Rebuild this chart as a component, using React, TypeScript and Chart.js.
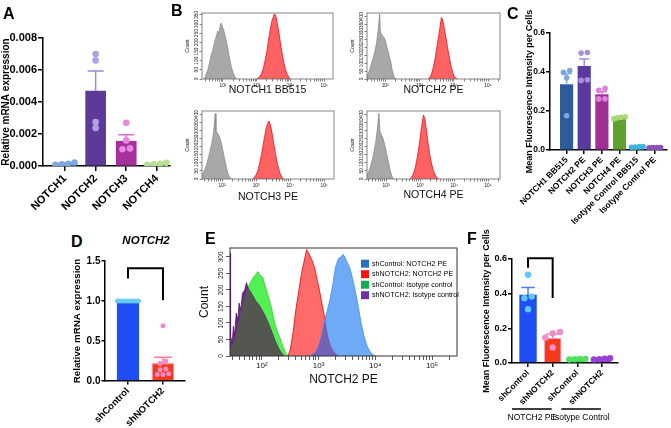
import React, { useEffect, useRef } from 'react';
import { Chart, registerables } from 'chart.js';

Chart.register(...registerables);

const FONT = "'Liberation Sans', Arial, Helvetica, sans-serif";
Chart.defaults.font.family = FONT;
Chart.defaults.color = '#000';

/* ================= DATA ================= */
// Panel A
const aCategories = ['NOTCH1', 'NOTCH2', 'NOTCH3', 'NOTCH4'];
const aMeans = [0.00012, 0.00469, 0.00155, 0.0001];
const aSems = [0.00003, 0.00125, 0.0004, 0.00002];
const aDotsNotch1 = [0.00022, 0.0001, 0.00008, 0.00013];
const aDotsNotch2 = [0.007, 0.0066, 0.00275, 0.00238];
const aDotsNotch3 = [0.0027, 0.0016, 0.00105, 0.0011];
const aDotsNotch4 = [0.0002, 0.00014, 0.00008, 0.00011];
const aYTicks = [0, 0.002, 0.004, 0.006, 0.008];

// Panel B histograms: [log10 intensity, count]
const b1Gray: number[][] = [[1.42,0],[1.47,8],[1.5,25],[1.55,48],[1.6,85],[1.65,128],[1.7,160],[1.75,198],[1.8,232],[1.85,262],[1.88,250],[1.92,292],[1.95,305],[1.98,286],[2.02,268],[2.05,246],[2.1,208],[2.15,160],[2.2,108],[2.25,66],[2.3,34],[2.35,12],[2.4,0]];
const b1Red: number[][] = [[3.0,0],[3.05,6],[3.1,16],[3.15,32],[3.2,60],[3.25,102],[3.3,150],[3.35,212],[3.4,268],[3.45,318],[3.5,342],[3.52,355],[3.56,348],[3.6,312],[3.65,262],[3.7,200],[3.75,142],[3.8,92],[3.85,55],[3.9,26],[3.95,10],[4.0,0]];
const b2Gray: number[][] = [[1.47,22],[1.5,32],[1.55,60],[1.6,98],[1.65,132],[1.7,175],[1.75,230],[1.8,318],[1.84,415],[1.86,300],[1.9,280],[1.95,268],[2.0,250],[2.05,205],[2.1,160],[2.15,124],[2.2,62],[2.25,22],[2.3,0]];
const b2Red: number[][] = [[3.25,0],[3.3,10],[3.35,30],[3.4,70],[3.45,122],[3.5,190],[3.55,262],[3.6,330],[3.64,392],[3.68,375],[3.72,330],[3.77,268],[3.82,200],[3.87,140],[3.92,84],[3.97,42],[4.02,16],[4.07,4],[4.1,0]];
const b3Gray: number[][] = [[1.41,20],[1.45,38],[1.5,62],[1.55,92],[1.6,132],[1.65,178],[1.7,222],[1.75,285],[1.8,405],[1.82,300],[1.87,282],[1.92,262],[1.97,230],[2.02,180],[2.07,128],[2.12,78],[2.17,36],[2.22,12],[2.27,0]];
const b3Red: number[][] = [[2.9,0],[2.95,10],[3.0,25],[3.05,50],[3.1,92],[3.15,142],[3.2,202],[3.25,262],[3.3,318],[3.35,348],[3.38,358],[3.42,335],[3.47,282],[3.52,218],[3.57,155],[3.62,100],[3.67,58],[3.72,26],[3.77,8],[3.8,0]];
const b4Gray: number[][] = [[1.44,22],[1.5,50],[1.55,82],[1.6,122],[1.65,172],[1.7,232],[1.75,318],[1.79,405],[1.82,292],[1.87,272],[1.92,245],[1.97,205],[2.02,155],[2.07,104],[2.12,55],[2.17,18],[2.22,0]];
const b4Red: number[][] = [[2.7,0],[2.75,10],[2.8,30],[2.85,62],[2.9,112],[2.95,175],[3.0,252],[3.05,330],[3.1,396],[3.14,372],[3.19,298],[3.24,215],[3.29,145],[3.34,92],[3.39,52],[3.44,26],[3.49,10],[3.55,0]];
const bTitles = ['NOTCH1 BB515', 'NOTCH2 PE', 'NOTCH3 PE', 'NOTCH4 PE'];
const bYTicksTop = [0, 50, 100, 150, 200, 250, 300, 350];
const bYTicks = [0, 50, 100, 150, 200, 250, 300, 350, 400];

// Panel C
const cCategories = ['NOTCH1 BB515', 'NOTCH2 PE', 'NOTCH3 PE', 'NOTCH4 PE', 'Isotype Control BB515', 'Isotype Control PE'];
const cMeans = [0.335, 0.429, 0.284, 0.164, 0.016, 0.012];
const cSems = [0.056, 0.038, 0.015, 0.008, 0.002, 0.001];
const cDotsN1 = [0.398, 0.407, 0.37, 0.176];
const cDotsN2 = [0.497, 0.5, 0.357, 0.36];
const cDotsN3 = [0.306, 0.316, 0.262, 0.262];
const cDotsN4 = [0.17, 0.168, 0.16, 0.165];
const cDotsIsoBB = [0.018, 0.015, 0.017, 0.014];
const cDotsIsoPE = [0.013, 0.012, 0.011, 0.012];
const cYTicks = [0, 0.2, 0.4, 0.6];

// Panel D
const dCategories = ['shControl', 'shNOTCH2'];
const dMeans = [1.0, 0.22];
const dSems = [0, 0.076];
const dDotsControl = [1, 1, 1, 1, 1, 1, 1, 1];
const dDotsKnockdown = [0.69, 0.25, 0.22, 0.15, 0.14, 0.09, 0.08, 0.08];
const dYTicks = [0, 0.5, 1.0, 1.5];
const dBracket = { from: 0, to: 1, top: 1.41, leftEnd: 1.28, rightEnd: 1.01 };

// Panel E histograms
const eBlue: number[][] = [[2.85,0],[2.95,12],[3.0,30],[3.05,60],[3.1,100],[3.15,135],[3.2,170],[3.25,215],[3.3,270],[3.35,295],[3.4,300],[3.43,308],[3.47,298],[3.5,285],[3.55,268],[3.6,235],[3.65,195],[3.7,150],[3.75,100],[3.8,62],[3.85,32],[3.9,15],[3.95,5],[4.0,0]];
const eRed: number[][] = [[2.46,0],[2.5,18],[2.55,70],[2.6,140],[2.65,195],[2.7,250],[2.75,290],[2.79,322],[2.83,310],[2.88,292],[2.93,268],[2.98,228],[3.02,195],[3.07,150],[3.11,115],[3.17,60],[3.22,30],[3.27,14],[3.32,5],[3.36,0]];
const eGreen: number[][] = [[1.44,20],[1.5,40],[1.55,70],[1.6,110],[1.65,150],[1.7,180],[1.75,205],[1.8,222],[1.85,238],[1.9,248],[1.93,256],[1.97,245],[2.02,236],[2.06,212],[2.1,190],[2.17,147],[2.23,98],[2.28,72],[2.32,55],[2.37,30],[2.42,10],[2.46,0]];
const ePurple: number[][] = [[1.44,310],[1.45,60],[1.48,40],[1.5,90],[1.52,60],[1.55,130],[1.58,110],[1.6,160],[1.63,140],[1.66,190],[1.7,200],[1.73,222],[1.76,205],[1.8,195],[1.85,180],[1.9,165],[1.95,155],[2.0,140],[2.05,125],[2.1,105],[2.15,85],[2.2,62],[2.25,40],[2.3,22],[2.35,8],[2.4,0]];
const eLegendLabels = ['shControl: NOTCH2 PE', 'shNOTCH2: NOTCH2 PE', 'shControl: Isotype control', 'shNOTCH2: Isotype control'];
const eYTicks = [0, 50, 100, 150, 200, 250, 300];

// Panel F
const fCategories = ['shControl', 'shNOTCH2', 'shControl', 'shNOTCH2'];
const fGroupLabels = ['NOTCH2 PE', 'Isotype Control'];
const fGroupSpans = [[0, 1], [2, 3]];
const fMeans = [0.393, 0.143, 0.02, 0.022];
const fSems = [0.042, 0.025, 0.003, 0.004];
const fDotsCtrl = [0.509, 0.383, 0.374, 0.31];
const fDotsKd = [0.179, 0.171, 0.146, 0.09];
const fDotsIsoCtrl = [0.022, 0.024, 0.02, 0.023];
const fDotsIsoKd = [0.028, 0.022, 0.025, 0.02];
const fYTicks = [0, 0.2, 0.4, 0.6];
const fBracket = { from: 0, to: 1, top: 0.605, leftEnd: 0.55, rightEnd: 0.375 };

/* ================= LAYOUT / STYLE ================= */
type Box = { cx: number; cy: number; cw: number; ch: number; L: number; T: number; R: number; B: number };
const BOX: Record<string, Box> = {
  A: { cx: 0, cy: 20, cw: 178, ch: 200, L: 43, T: 38, R: 170, B: 166 },
  B1: { cx: 180, cy: 5, cw: 160, ch: 100, L: 202, T: 13, R: 333, B: 79 },
  B2: { cx: 345, cy: 5, cw: 160, ch: 100, L: 367, T: 13, R: 500, B: 79 },
  B3: { cx: 180, cy: 103, cw: 160, ch: 105, L: 202, T: 111, R: 334, B: 179 },
  B4: { cx: 345, cy: 103, cw: 160, ch: 105, L: 367, T: 111, R: 500, B: 179 },
  C: { cx: 500, cy: 0, cw: 171, ch: 260, L: 550, T: 33, R: 670, B: 150 },
  D: { cx: 60, cy: 250, cw: 130, ch: 178, L: 105, T: 261, R: 185, B: 381 },
  E: { cx: 195, cy: 235, cw: 270, ch: 160, L: 230, T: 248, R: 457, B: 356 },
  F: { cx: 480, cy: 222, cw: 145, ch: 206, L: 512, T: 259, R: 618, B: 363 },
};

function layoutFor(b: Box) {
  return {
    padding: { left: 0, top: b.T - b.cy, right: b.cx + b.cw - b.R, bottom: 0 },
    yWidth: b.L - b.cx,
    xHeight: b.cy + b.ch - b.B,
  };
}

const SUP: Record<number, string> = { 1: '\u00b9', 2: '\u00b2', 3: '\u00b3', 4: '\u2074', 5: '\u2075' };
function decadeLabel(v: number) {
  const r = Math.round(v);
  return Math.abs(v - r) < 1e-6 ? '10' + SUP[r] : '';
}
function logTicks(min: number, max: number) {
  const t: { value: number }[] = [];
  for (let e = Math.floor(min); e <= Math.ceil(max); e++) {
    for (let k = 1; k <= 9; k++) {
      const v = e + Math.log10(k);
      if (v >= min - 1e-9 && v <= max + 1e-9) t.push({ value: v });
    }
  }
  return t;
}

// horizontal spreading of overlapping dots (scatter dot plot)
function swarmX(values: number[], center: number, pxX: number, pxY: number, diam: number, maxSpan: number) {
  const idx = values.map((_, i) => i).sort((a, b) => values[a] - values[b]);
  const xs = values.map(() => center);
  let i = 0;
  while (i < idx.length) {
    let j = i + 1;
    while (j < idx.length && (values[idx[j]] - values[idx[j - 1]]) * pxY < diam * 0.7) j++;
    const n = j - i;
    if (n > 1) {
      const step = Math.min(diam * 1.15, maxSpan / (n - 1));
      for (let k = 0; k < n; k++) xs[idx[i + k]] = center + ((k - (n - 1) / 2) * step) / pxX;
    }
    i = j;
  }
  return xs;
}

/* ================= PLUGINS ================= */
const errorBarPlugin = {
  id: 'errorBars',
  afterDatasetDraw(chart: any, args: any) {
    const ds: any = chart.data.datasets[args.index];
    if (!ds.sems) return;
    const ys = chart.scales.y;
    const ctx = chart.ctx;
    ctx.save();
    args.meta.data.forEach((bar: any, i: number) => {
      const s = ds.sems[i];
      if (!s) return;
      const m = ds.data[i].y;
      const y0 = ys.getPixelForValue(m);
      const y1 = ys.getPixelForValue(m + s);
      ctx.strokeStyle = ds.errColors[i];
      ctx.lineWidth = 1.5;
      ctx.beginPath();
      ctx.moveTo(bar.x, y0);
      ctx.lineTo(bar.x, y1);
      ctx.moveTo(bar.x - ds.capHalf, y1);
      ctx.lineTo(bar.x + ds.capHalf, y1);
      ctx.stroke();
    });
    ctx.restore();
  },
};

const bracketPlugin = {
  id: 'brackets',
  afterDatasetsDraw(chart: any, _a: any, opts: any) {
    const items = (opts && opts.items) || [];
    const ctx = chart.ctx;
    const xs = chart.scales.x, ys = chart.scales.y;
    ctx.save();
    ctx.strokeStyle = '#000';
    ctx.lineWidth = 2;
    ctx.lineJoin = 'miter';
    items.forEach((b: any) => {
      const x1 = xs.getPixelForValue(b.from), x2 = xs.getPixelForValue(b.to);
      const yt = ys.getPixelForValue(b.top);
      ctx.beginPath();
      ctx.moveTo(x1, ys.getPixelForValue(b.leftEnd));
      ctx.lineTo(x1, yt);
      ctx.lineTo(x2, yt);
      ctx.lineTo(x2, ys.getPixelForValue(b.rightEnd));
      ctx.stroke();
    });
    ctx.restore();
  },
};

const groupPlugin = {
  id: 'groups',
  afterDraw(chart: any, _a: any, opts: any) {
    if (!opts || !opts.labels) return;
    const ctx = chart.ctx;
    const xs = chart.scales.x;
    const yb = chart.chartArea.bottom;
    ctx.save();
    opts.labels.forEach((label: string, i: number) => {
      const [a, b] = opts.spans[i];
      const x1 = xs.getPixelForValue(a) - 16, x2 = xs.getPixelForValue(b) - 1;
      ctx.strokeStyle = '#000';
      ctx.lineWidth = 1.6;
      ctx.beginPath();
      ctx.moveTo(x1, yb + 46);
      ctx.lineTo(x2, yb + 46);
      ctx.stroke();
      ctx.fillStyle = '#000';
      ctx.font = `8.5px ${FONT}`;
      ctx.textAlign = 'center';
      ctx.textBaseline = 'middle';
      ctx.fillText(label, (x1 + x2) / 2, yb + 55);
    });
    ctx.restore();
  },
};

const overlapPlugin = {
  id: 'overlap',
  afterDatasetsDraw(chart: any, _a: any, opts: any) {
    const pairs = (opts && opts.pairs) || [];
    const { ctx, chartArea } = chart;
    const y0 = chart.scales.y.getPixelForValue(0);
    const path = (meta: any) => {
      const pts = meta.data;
      ctx.moveTo(pts[0].x, y0);
      pts.forEach((p: any) => ctx.lineTo(p.x, p.y));
      ctx.lineTo(pts[pts.length - 1].x, y0);
      ctx.closePath();
    };
    pairs.forEach((pr: any) => {
      ctx.save();
      ctx.beginPath();
      ctx.rect(chartArea.left, chartArea.top, chartArea.width, chartArea.height);
      ctx.clip();
      ctx.beginPath();
      path(chart.getDatasetMeta(pr.a));
      ctx.clip();
      ctx.beginPath();
      path(chart.getDatasetMeta(pr.b));
      ctx.fillStyle = pr.color;
      ctx.fill();
      ctx.restore();
    });
  },
};

const framePlugin = {
  id: 'frame',
  afterDraw(chart: any, _a: any, opts: any) {
    if (!opts || !opts.color) return;
    const { ctx, chartArea } = chart;
    ctx.save();
    ctx.strokeStyle = opts.color;
    ctx.lineWidth = opts.width;
    ctx.strokeRect(chartArea.left, chartArea.top, chartArea.width, chartArea.height);
    ctx.restore();
  },
};

const rotYPlugin = {
  id: 'rotY',
  afterDraw(chart: any, _a: any, o: any) {
    if (!o || !o.size) return;
    const ys = chart.scales.y;
    const ctx = chart.ctx;
    ctx.save();
    ctx.font = `${o.size}px ${FONT}`;
    ctx.fillStyle = '#222';
    ctx.textAlign = 'center';
    ctx.textBaseline = 'bottom';
    ys.ticks.forEach((t: any) => {
      ctx.save();
      ctx.translate(chart.chartArea.left - o.gap, ys.getPixelForValue(t.value));
      ctx.rotate(-Math.PI / 2);
      ctx.fillText(String(t.value), 0, 0);
      ctx.restore();
    });
    ctx.restore();
  },
};

const legendPlugin = {
  id: 'boxLegend',
  afterDraw(chart: any, _a: any, o: any) {
    if (!o || !o.labels) return;
    const { ctx, chartArea } = chart;
    ctx.save();
    ctx.font = `${o.size}px ${FONT}`;
    ctx.textBaseline = 'middle';
    ctx.textAlign = 'left';
    o.labels.forEach((label: string, i: number) => {
      const y = chartArea.top + o.dy0 + i * o.dy;
      const x = chartArea.left + o.dx;
      ctx.fillStyle = o.colors[i];
      ctx.fillRect(x, y - o.box / 2, o.box, o.box);
      ctx.fillStyle = '#000';
      ctx.fillText(label, x + o.box + o.gap, y);
    });
    ctx.restore();
  },
};

/* ================= CONFIG BUILDERS ================= */
function barConfig(p: any) {
  const b: Box = p.box;
  const lay = layoutFor(b);
  const pxX = (b.R - b.L) / (p.xMax - p.xMin);
  const pxY = (b.B - b.T) / p.yMax;
  const diam = p.dotR * 2;
  const dotData: any[] = [];
  const dotCols: string[] = [];
  p.dots.forEach((vals: number[], i: number) => {
    const xs = swarmX(vals, i, pxX, pxY, diam, p.barWidth * 0.95);
    vals.forEach((v, k) => {
      dotData.push({ x: xs[k], y: v });
      dotCols.push(p.dotColors[i]);
    });
  });
  const axisGrid = {
    display: true, offset: false, drawOnChartArea: false, drawTicks: true,
    tickLength: p.tickLen, tickWidth: 1.5, tickColor: '#000', lineWidth: 1.5, color: '#000',
  };
  return {
    type: 'bar',
    data: {
      datasets: [
        {
          type: 'bar',
          data: p.means.map((m: number, i: number) => ({ x: i, y: m })),
          backgroundColor: p.barColors,
          borderColor: p.barBorders || p.barColors,
          borderWidth: p.barBorders ? 1.2 : 0,
          barThickness: p.barWidth,
          order: 2,
          sems: p.sems,
          errColors: p.errColors,
          capHalf: p.barWidth * 0.4,
        },
        {
          type: 'scatter',
          data: dotData,
          backgroundColor: dotCols,
          borderWidth: 0,
          pointRadius: p.dotR,
          order: 1,
        },
      ],
    },
    options: {
      responsive: false,
      animation: false,
      devicePixelRatio: 1,
      events: [],
      layout: { padding: lay.padding },
      plugins: {
        legend: { display: false },
        tooltip: { enabled: false },
        brackets: { items: p.brackets || [] },
        groups: p.groups || {},
      },
      scales: {
        x: {
          type: 'linear', min: p.xMin, max: p.xMax, offset: false,
          afterBuildTicks: (s: any) => { s.ticks = p.categories.map((_: string, i: number) => ({ value: i })); },
          afterFit: (s: any) => { s.height = lay.xHeight; },
          grid: axisGrid,
          border: { display: true, color: '#000', width: 1.5 },
          ticks: {
            autoSkip: false, minRotation: 45, maxRotation: 45, padding: 1,
            font: { size: p.xFont, weight: 'bold' }, color: '#000',
            callback: (v: number) => p.categories[Math.round(v)] ?? '',
          },
        },
        y: {
          type: 'linear', min: 0, max: p.yMax,
          afterBuildTicks: (s: any) => { s.ticks = p.yTicks.map((v: number) => ({ value: v })); },
          afterFit: (s: any) => { s.width = lay.yWidth; },
          grid: axisGrid,
          border: { display: true, color: '#000', width: 1.5 },
          ticks: {
            padding: 1, font: { size: p.tickFont, weight: 'bold' }, color: '#000',
            callback: (v: number) => Number(v).toFixed(p.decimals),
          },
          title: {
            display: true, text: p.yTitle, color: '#000',
            font: { size: p.titleFont, weight: 'bold' },
            padding: { top: p.titlePad, bottom: 0 },
          },
        },
      },
    },
    plugins: [errorBarPlugin, bracketPlugin, groupPlugin],
  };
}

function histConfig(h: any) {
  const b: Box = h.box;
  const lay = layoutFor(b);
  const tickGrid = {
    display: true, offset: false, drawOnChartArea: false, drawTicks: true,
    tickLength: h.tickLen, tickWidth: 0.8, tickColor: h.frameColor, lineWidth: 0.8, color: h.frameColor,
  };
  return {
    type: 'line',
    data: {
      datasets: h.series.map((s: any) => ({
        data: s.data.map((pt: number[]) => ({ x: pt[0], y: pt[1] })),
        fill: 'origin',
        backgroundColor: s.fill,
        borderColor: s.line,
        borderWidth: 0.8,
        pointRadius: 0,
        tension: 0,
      })),
    },
    options: {
      responsive: false,
      animation: false,
      devicePixelRatio: 1,
      events: [],
      layout: { padding: lay.padding },
      plugins: {
        legend: { display: false },
        tooltip: { enabled: false },
        overlap: { pairs: h.overlaps || [] },
        frame: { color: h.frameColor, width: h.frameWidth },
        rotY: { size: h.yLabelSize, gap: h.tickLen + h.yLabelGap },
        boxLegend: h.legend || {},
      },
      scales: {
        x: {
          type: 'linear', min: h.xMin, max: h.xMax, offset: false,
          afterBuildTicks: (s: any) => { s.ticks = logTicks(h.xMin, h.xMax); },
          afterFit: (s: any) => { s.height = lay.xHeight; },
          grid: tickGrid,
          border: { display: false },
          ticks: {
            autoSkip: false, minRotation: 0, maxRotation: 0, padding: 1,
            font: { size: h.xLabelSize }, color: '#111',
            callback: (v: number) => decadeLabel(v),
          },
          title: {
            display: true, text: h.title, color: '#111',
            font: { size: h.titleSize },
            padding: { top: 0, bottom: h.titlePadBottom },
          },
        },
        y: {
          type: 'linear', min: 0, max: h.yMax,
          afterBuildTicks: (s: any) => { s.ticks = h.yTicks.map((v: number) => ({ value: v })); },
          afterFit: (s: any) => { s.width = lay.yWidth; },
          grid: tickGrid,
          border: { display: false },
          ticks: { display: false },
          title: {
            display: true, text: 'Count', color: '#111',
            font: { size: h.yTitleSize },
            padding: { top: h.yTitlePad, bottom: 0 },
          },
        },
      },
    },
    plugins: [overlapPlugin, framePlugin, rotYPlugin, legendPlugin],
  };
}

/* ================= PANEL SPECS ================= */
const GRAY_FILL = '#a8a8a8', GRAY_LINE = '#8a8a8a', RED_FILL = '#ff6262', RED_LINE = '#e8101a';

function bHist(box: Box, gray: number[][], red: number[][], title: string, xMin: number, xMax: number, yMax: number, yTicks: number[], titlePadBottom: number) {
  return histConfig({
    box, xMin, xMax, yMax, yTicks, title, titlePadBottom,
    series: [{ data: red, fill: RED_FILL, line: RED_LINE }, { data: gray, fill: GRAY_FILL, line: GRAY_LINE }],
    titleSize: 10.5, xLabelSize: 4.8, yLabelSize: 4.8, yLabelGap: 0.8, yTitleSize: 5, yTitlePad: 4.5,
    tickLen: 2.5, frameColor: '#666', frameWidth: 0.8,
  });
}

const makers: Record<string, () => any> = {
  A: () => barConfig({
    box: BOX.A, categories: aCategories, means: aMeans, sems: aSems,
    dots: [aDotsNotch1, aDotsNotch2, aDotsNotch3, aDotsNotch4],
    barColors: ['#4a78c8', '#5b3a98', '#a8309a', '#8cc05c'],
    dotColors: ['#7ea8e2', '#b3a0e2', '#e68ae0', '#b6e090'],
    errColors: ['#7ea8e2', '#9c88d4', '#d870cc', '#b6e090'],
    yTicks: aYTicks, yMax: 0.008, decimals: 3, yTitle: 'Relative mRNA expression',
    xMin: -0.72, xMax: 3.43, barWidth: 20, dotR: 3.3, tickLen: 5,
    tickFont: 11, xFont: 11, titleFont: 10, titlePad: 0,
  }),
  B1: () => bHist(BOX.B1, b1Gray, b1Red, bTitles[0], 1.38, 5.26, 360, bYTicksTop, 8.7),
  B2: () => bHist(BOX.B2, b2Gray, b2Red, bTitles[1], 1.47, 5.35, 420, bYTicks, 8.7),
  B3: () => bHist(BOX.B3, b3Gray, b3Red, bTitles[2], 1.41, 5.29, 420, bYTicks, 4.7),
  B4: () => bHist(BOX.B4, b4Gray, b4Red, bTitles[3], 1.44, 5.35, 420, bYTicks, 6.7),
  C: () => barConfig({
    box: BOX.C, categories: cCategories, means: cMeans, sems: cSems,
    dots: [cDotsN1, cDotsN2, cDotsN3, cDotsN4, cDotsIsoBB, cDotsIsoPE],
    barColors: ['#2e5c9a', '#5a3a9c', '#a22f96', '#60a030', '#2aa0c8', '#7030a0'],
    dotColors: ['#7ca8e0', '#a890dc', '#e080e0', '#a8d878', '#40b4dc', '#8a52bc'],
    errColors: ['#8cb4e6', '#a48cdc', '#e07ada', '#a8d878', '#40b4dc', '#8a52bc'],
    yTicks: cYTicks, yMax: 0.6, decimals: 1, yTitle: 'Mean Fluorescence Intensity per Cells',
    xMin: -0.94, xMax: 5.69, barWidth: 12.5, dotR: 2.8, tickLen: 4,
    tickFont: 8.5, xFont: 8.5, titleFont: 9, titlePad: 24.6,
  }),
  D: () => barConfig({
    box: BOX.D, categories: dCategories, means: dMeans, sems: dSems,
    dots: [dDotsControl, dDotsKnockdown],
    barColors: ['#1f4ef5', '#f53a1a'], barBorders: ['#1f4ef5', '#f7a0b8'],
    dotColors: ['#66ccf6', '#f58ac8'], errColors: ['#66ccf6', '#f57aa0'],
    yTicks: dYTicks, yMax: 1.5, decimals: 1, yTitle: 'Relative mRNA expression',
    xMin: -0.657, xMax: 1.63, barWidth: 22, dotR: 2.5, tickLen: 3.5,
    tickFont: 10, xFont: 9.5, titleFont: 9.8, titlePad: 11,
    brackets: [dBracket],
  }),
  E: () => histConfig({
    box: BOX.E, xMin: 1.44, xMax: 5.44, yMax: 327, yTicks: eYTicks,
    title: 'NOTCH2 PE', titlePadBottom: 7.8, titleSize: 12,
    series: [
      { data: eBlue, fill: '#6eaaf5', line: '#3d8ff0' },
      { data: eRed, fill: '#ff6a6a', line: '#e80000' },
      { data: ePurple, fill: '#6b2a8c', line: '#5a1070' },
      { data: eGreen, fill: '#52f052', line: '#30d030' },
    ],
    overlaps: [{ a: 1, b: 0, color: '#7462b6' }, { a: 3, b: 2, color: '#545650' }],
    xLabelSize: 8, yLabelSize: 6.5, yLabelGap: 1.5, yTitleSize: 12, yTitlePad: 2.3,
    tickLen: 4, frameColor: '#333', frameWidth: 1,
    legend: {
      labels: eLegendLabels, colors: ['#2f6fc0', '#ff1010', '#10b050', '#7030a0'],
      size: 7.1, dx: 131, dy0: 15.7, dy: 10.5, box: 8, gap: 3,
    },
  }),
  F: () => barConfig({
    box: BOX.F, categories: fCategories, means: fMeans, sems: fSems,
    dots: [fDotsCtrl, fDotsKd, fDotsIsoCtrl, fDotsIsoKd],
    barColors: ['#1f4ef5', '#f53a1a', '#2fd040', '#8a2fd0'],
    barBorders: ['#1f4ef5', '#f7a3c0', '#2fd040', '#8a2fd0'],
    dotColors: ['#5ec8f8', '#f58ac8', '#50e060', '#9a40d8'],
    errColors: ['#4d7cf5', '#f58ab8', '#50e060', '#9a40d8'],
    yTicks: fYTicks, yMax: 0.6, decimals: 1, yTitle: 'Mean Fluorescence Intensity per Cells',
    xMin: -0.65, xMax: 3.65, barWidth: 17, dotR: 3.2, tickLen: 4,
    tickFont: 9, xFont: 8.5, titleFont: 9, titlePad: 1.6,
    brackets: [fBracket],
    groups: { labels: fGroupLabels, spans: fGroupSpans },
  }),
};

/* ================= COMPONENTS ================= */
function ChartCanvas({ box, make }: { box: Box; make: () => any }) {
  const ref = useRef<HTMLCanvasElement>(null);
  useEffect(() => {
    const chart = new Chart(ref.current as HTMLCanvasElement, make());
    return () => chart.destroy();
  }, []);
  return (
    <canvas
      ref={ref}
      width={box.cw}
      height={box.ch}
      style={{ position: 'absolute', left: box.cx, top: box.cy, width: box.cw, height: box.ch }}
    />
  );
}

const letterStyle = (left: number, top: number): React.CSSProperties => ({
  position: 'absolute', left, top, fontFamily: FONT, fontWeight: 'bold', fontSize: 16, lineHeight: '16px', color: '#000',
});

export default function App() {
  return (
    <div style={{ position: 'absolute', left: 0, top: 0, width: 671, height: 428, background: '#fff', overflow: 'hidden' }}>
      {Object.keys(makers).map((k) => (
        <ChartCanvas key={k} box={BOX[k]} make={makers[k]} />
      ))}
      <div style={letterStyle(3, 6)}>A</div>
      <div style={letterStyle(171, 3)}>B</div>
      <div style={letterStyle(507, 6)}>C</div>
      <div style={letterStyle(71, 234)}>D</div>
      <div style={letterStyle(205, 231)}>E</div>
      <div style={letterStyle(467, 231)}>F</div>
      <div
        style={{
          position: 'absolute', left: 106, top: 235, width: 80, textAlign: 'center',
          fontFamily: FONT, fontWeight: 'bold', fontStyle: 'italic', fontSize: 11.5, lineHeight: '11.5px',
        }}
      >
        NOTCH2
      </div>
    </div>
  );
}
